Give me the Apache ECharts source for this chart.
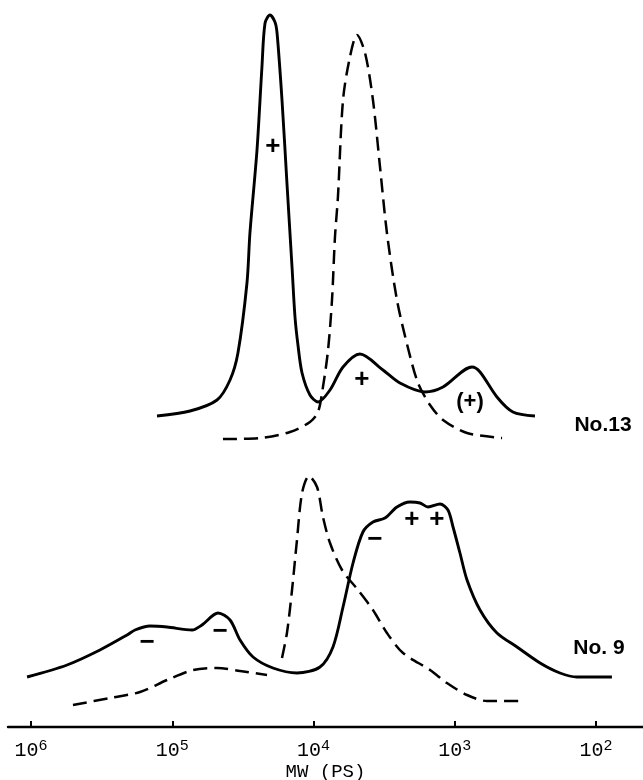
<!DOCTYPE html>
<html>
<head>
<meta charset="utf-8">
<script src="https://cdn.jsdelivr.net/npm/echarts@6/dist/echarts.min.js"></script>
<style>
html,body{margin:0;padding:0;background:#fff;}
#chart{width:643px;height:780px;}
</style>
</head>
<body>
<div id="chart"></div>
<script>
// x = log10(MW), y = detector response (a.u.)
const no13Solid = [
  [5.108,311],[4.874,316],[4.683,327],[4.591,347],[4.535,374],[4.471,444],[4.450,494],
  [4.400,577],[4.365,660],[4.343,704],[4.308,712],[4.273,705],[4.258,694],[4.223,627],[4.188,544],
  [4.152,460],[4.131,410],[4.110,382],[4.081,354],[4.025,332],[3.968,325],[3.883,337],[3.791,360],
  [3.671,373],[3.508,357],[3.388,344],[3.211,335],[3.083,340],[2.878,360],[2.821,355],[2.701,330],
  [2.588,315],[2.432,311]
];
const no13Dashed = [
  [4.641,288],[4.379,289],[4.166,295],[4.025,305],[3.968,315],[3.933,340],[3.897,377],[3.869,427],
  [3.848,490],[3.827,530],[3.791,627],[3.742,670],[3.692,692],[3.635,674],[3.579,627],[3.529,560],
  [3.480,494],[3.409,427],[3.331,379],[3.260,344],[3.175,322],[3.083,307],[2.913,294],[2.665,289]
];
const no9Solid = [
  [6.028,50],[5.745,62],[5.512,77],[5.320,92],[5.264,97],[5.158,101],[5.037,100],[4.860,97],[4.790,102],
  [4.676,114],[4.591,107],[4.520,87],[4.428,70],[4.287,59],[4.117,54],[3.954,60],[3.862,80],
  [3.791,120],[3.720,164],[3.650,195],[3.579,205],[3.494,209],[3.409,220],[3.317,225],[3.246,224],
  [3.189,220],[3.104,223],[3.048,217],[3.012,200],[2.963,174],[2.913,147],[2.821,117],[2.701,94],
  [2.559,80],[2.396,64],[2.255,54],[2.135,50],[1.887,50]
];
const no9DashedLow = [
  [5.703,22],[5.441,29],[5.228,35],[5.037,47],[4.853,57],[4.683,59],[4.520,56],[4.329,52]
];
const no9DashedPeak = [
  [4.223,69],[4.188,94],[4.152,137],[4.117,187],[4.081,234],[4.032,251],[3.975,240],[3.933,210],
  [3.883,184],[3.798,157],[3.685,137],[3.579,117],[3.480,94],[3.366,74],[3.175,57],[3.055,44],
  [2.913,32],[2.772,26],[2.538,26]
];
const signMarks = [
  [4.287,580,'+'],[3.657,347,'+'],[3.565,187,'\u2212'],[3.303,207,'+'],[3.126,207,'+'],
  [5.179,84,'\u2212'],[4.662,95,'\u2212']
];
const bracketMarks = [[2.892,325,'(+)']];
const sampleLabels = [[1.950,302,'No.13'],[1.979,79,'No. 9']];
const tickExponents = [6,5,4,3,2];

const solidStyle = {color:'#000', width:2.9};
const dashStyle = {color:'#000', width:2.5, type:[14,7]};

function lineSeries(data, style){
  return {type:'line', xAxisIndex:0, yAxisIndex:0, data:data, smooth:0.3, symbol:'none',
    lineStyle:style, silent:true, animation:false, z:3};
}
function textSeries(data, size){
  return {type:'scatter', xAxisIndex:0, yAxisIndex:0, data:data, symbolSize:1,
    itemStyle:{color:'rgba(0,0,0,0)'}, silent:true, z:5,
    label:{show:true, position:'inside', formatter:function(p){return p.value[2];},
      fontFamily:'Liberation Sans', fontWeight:'bold', fontSize:size, color:'#000', opacity:1}};
}

const chart = echarts.init(document.getElementById('chart'), null, {renderer:'canvas'});
chart.setOption({
  backgroundColor:'#fff',
  animation:false,
  grid:[
    {left:8, right:0, top:0, bottom:53, containLabel:false, outerBoundsMode:'none'},
    {left:31, right:47, top:0, bottom:53, containLabel:false, outerBoundsMode:'none'}
  ],
  xAxis:[
    {type:'value', gridIndex:0, inverse:true, min:1.667, max:6.163,
     axisLine:{show:true, lineStyle:{color:'#000', width:2.4}},
     axisTick:{show:false}, axisLabel:{show:false}, splitLine:{show:false},
     name:'MW (PS)', nameLocation:'middle', nameGap:35,
     nameTextStyle:{fontFamily:'Liberation Mono', fontSize:19, color:'#000'}},
    {type:'value', gridIndex:1, inverse:true, min:2, max:6, interval:1,
     axisLine:{show:false}, splitLine:{show:false},
     axisTick:{show:true, inside:true, length:6, lineStyle:{color:'#000', width:2}},
     axisLabel:{margin:12, color:'#000',
       formatter:function(v){ return tickExponents.indexOf(v) >= 0 ? '{b|10}{s|' + v + '}' : ''; },
       rich:{
         b:{fontFamily:'Liberation Mono', fontSize:20, lineHeight:22, verticalAlign:'bottom', color:'#000'},
         s:{fontFamily:'Liberation Mono', fontSize:15, lineHeight:14, verticalAlign:'top', color:'#000'}
       }}}
  ],
  yAxis:[
    {type:'value', gridIndex:0, min:0, max:727, show:false},
    {type:'value', gridIndex:1, min:0, max:727, show:false}
  ],
  series:[
    lineSeries(no13Solid, solidStyle),
    lineSeries(no13Dashed, dashStyle),
    lineSeries(no9Solid, solidStyle),
    lineSeries(no9DashedLow, dashStyle),
    lineSeries(no9DashedPeak, dashStyle),
    textSeries(signMarks, 26),
    textSeries(bracketMarks, 22),
    textSeries(sampleLabels, 21)
  ]
});
</script>
</body>
</html>
